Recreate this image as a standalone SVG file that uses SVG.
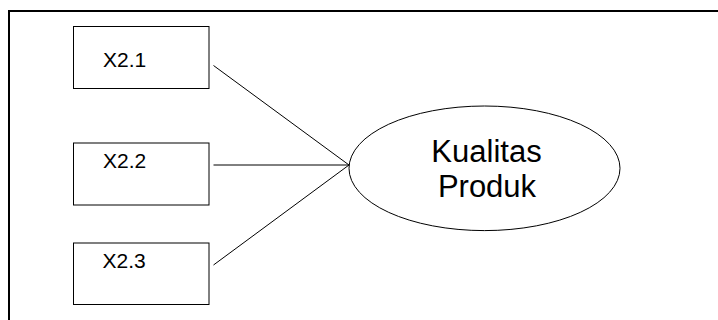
<svg xmlns="http://www.w3.org/2000/svg" width="718" height="320" viewBox="0 0 718 320">
  <style>
    .box { fill: #ffffff; stroke: #000000; stroke-width: 1; }
    .ell { fill: #ffffff; stroke: #000000; stroke-width: 1; }
    .lbl { font-family: "Liberation Sans", Arial, sans-serif; font-size: 21px; fill: #000000; }
    .big { font-family: "Liberation Sans", Arial, sans-serif; font-size: 31px; fill: #000000; text-anchor: middle; }
    .conn { stroke: #000000; stroke-width: 1; fill: none; }
  </style>
  <rect x="0" y="0" width="718" height="320" fill="#ffffff"/>
  <path id="frame" d="M9,330 V11 H730" fill="none" stroke="#000000" stroke-width="2"/>
  <g id="connectors">
    <line class="conn" x1="213.5" y1="65.5" x2="349" y2="165"/>
    <line class="conn" x1="213.5" y1="165" x2="349" y2="165"/>
    <line class="conn" x1="213.5" y1="265" x2="349" y2="165"/>
  </g>
  <g id="x21">
    <rect class="box" x="73.5" y="26.5" width="135.5" height="62"/>
    <text class="lbl" x="103" y="66.7">X2.1</text>
  </g>
  <g id="x22">
    <rect class="box" x="73.5" y="143" width="135.5" height="62"/>
    <text class="lbl" x="103" y="168.3">X2.2</text>
  </g>
  <g id="x23">
    <rect class="box" x="73.5" y="243" width="135.5" height="61.5"/>
    <text class="lbl" x="102.5" y="267.5">X2.3</text>
  </g>
  <g id="kualitas">
    <ellipse class="ell" cx="484.5" cy="168.3" rx="135.5" ry="62.3"/>
    <text class="big" x="486.5" y="161.7">Kualitas</text>
    <text class="big" x="487" y="197.3">Produk</text>
  </g>
</svg>
